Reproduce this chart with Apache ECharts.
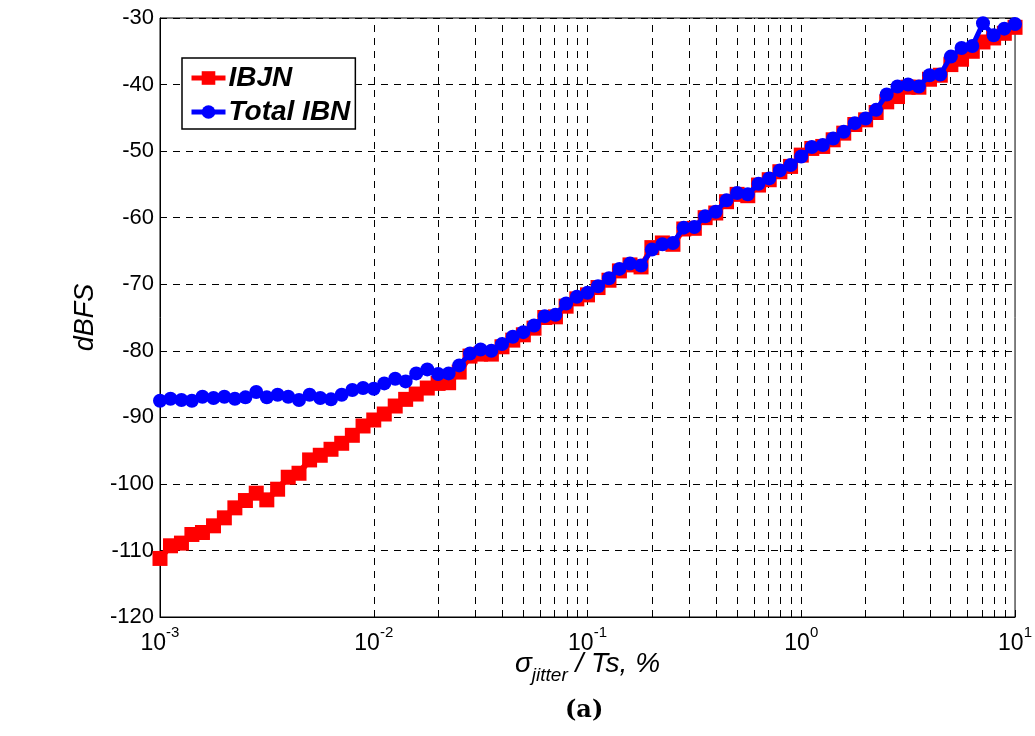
<!DOCTYPE html>
<html>
<head>
    <meta charset="UTF-8">
    <title>ECharts</title>
    <script src="https://cdn.jsdelivr.net/npm/echarts@6/dist/echarts.min.js"></script>
    <style>
        html, body { margin: 0; padding: 0; width: 100%; height: 100%; background: #fff; }
        #main { width: 1035px; height: 736px; }
    </style>
</head>
<body>
    <div id="main"></div>
    <script type="text/javascript">
        // sigma_jitter / Ts, %  (20 points per decade)
        var jitter = [
            0.001, 0.00112, 0.00126, 0.00141, 0.00158, 0.00178, 0.002, 0.00224, 0.00251, 0.00282,
            0.00316, 0.00355, 0.00398, 0.00447, 0.00501, 0.00562, 0.00631, 0.00708, 0.00794, 0.00891,
            0.01, 0.0112, 0.0126, 0.0141, 0.0158, 0.0178, 0.02, 0.0224, 0.0251, 0.0282,
            0.0316, 0.0355, 0.0398, 0.0447, 0.0501, 0.0562, 0.0631, 0.0708, 0.0794, 0.0891,
            0.1, 0.112, 0.126, 0.141, 0.158, 0.178, 0.2, 0.224, 0.251, 0.282,
            0.316, 0.355, 0.398, 0.447, 0.501, 0.562, 0.631, 0.708, 0.794, 0.891,
            1, 1.12, 1.26, 1.41, 1.58, 1.78, 2, 2.24, 2.51, 2.82,
            3.16, 3.55, 3.98, 4.47, 5.01, 5.62, 6.31, 7.08, 7.94, 8.91,
            10
        ];

        var ibjn = [
            -111.2, -109.3, -108.9, -107.6, -107.3, -106.3, -105.1, -103.6, -102.5, -101.4,
            -102.4, -100.8, -99.0, -98.4, -96.4, -95.7, -94.8, -93.9, -92.7, -91.3,
            -90.4, -89.5, -88.3, -87.3, -86.5, -85.6, -84.9, -84.8, -83.2, -80.8,
            -80.5, -80.5, -79.4, -78.4, -77.6, -76.6, -75.0, -74.9, -73.3, -72.2,
            -71.6, -70.5, -69.4, -68.0, -67.1, -67.4, -64.5, -63.8, -64.0, -61.7,
            -61.6, -60.0, -59.3, -57.6, -56.5, -56.7, -55.1, -54.3, -53.1, -52.3,
            -50.6, -49.6, -49.3, -48.3, -47.3, -46.0, -45.3, -44.2, -42.6, -41.8,
            -40.4, -40.4, -39.2, -38.6, -37.0, -36.2, -35.0, -33.6, -33.0, -32.3,
            -31.4
        ];

        var totalIbn = [
            -87.5, -87.2, -87.4, -87.5, -86.9, -87.1, -86.9, -87.2, -87.0, -86.2,
            -87.0, -86.6, -86.9, -87.4, -86.6, -87.1, -87.3, -86.6, -85.9, -85.6,
            -85.7, -84.9, -84.2, -84.6, -83.4, -82.8, -83.5, -83.4, -82.2, -80.4,
            -79.8, -80.0, -79.0, -77.9, -77.2, -76.2, -74.8, -74.6, -72.9, -71.9,
            -71.3, -70.3, -69.1, -67.7, -66.9, -67.2, -64.8, -64.0, -63.8, -61.5,
            -61.4, -59.8, -59.1, -57.4, -56.3, -56.5, -54.9, -54.1, -52.9, -52.1,
            -50.8, -49.4, -49.1, -48.1, -47.1, -45.8, -45.1, -43.8, -41.5, -40.3,
            -40.0, -40.3, -38.6, -38.5, -35.8, -34.5, -34.2, -30.8, -32.6, -31.6,
            -30.9
        ];

        var decades = [0.001, 0.01, 0.1, 1, 10];
        var mantissas = [1, 2, 3, 4, 5, 6, 7, 8, 9];

        function pairs(xs, ys) {
            var out = [];
            for (var i = 0; i < xs.length; i++) out.push([xs[i], ys[i]]);
            return out;
        }

        // vertical dashed grid at every log tick (MATLAB style)
        var gridLines = [];
        for (var d = 0; d < decades.length - 1; d++) {
            for (var m = 0; m < mantissas.length; m++) {
                var v = +(decades[d] * mantissas[m]).toPrecision(3);
                if (v > 0.001) gridLines.push({ xAxis: v });
            }
        }

        var font = 'Liberation Sans, Arial, sans-serif';
        var dash = { color: '#000', width: 1, type: [7, 6] };

        var myChart = echarts.init(document.getElementById('main'), null, { renderer: 'canvas' });

        var option = {
            animation: false,
            backgroundColor: '#fff',
            textStyle: { fontFamily: font, color: '#000' },
            grid: {
                left: 160, right: 17, top: 18, bottom: 119,
                show: true, borderColor: '#000', borderWidth: 1, backgroundColor: 'transparent'
            },
            legend: {
                orient: 'vertical',
                left: 182, top: 58,
                padding: [6, 5, 3, 7],
                itemWidth: 34, itemHeight: 17, itemGap: 6,
                backgroundColor: '#fff',
                borderColor: '#000', borderWidth: 1.5,
                lineStyle: { width: 5 },
                textStyle: { fontSize: 28, fontWeight: 'bold', fontStyle: 'italic', color: '#000', fontFamily: font, padding: [0, 0, 0, -2] },
                data: ['IBJN', 'Total IBN']
            },
            xAxis: {
                type: 'log', logBase: 10, min: 0.001, max: 10,
                name: '{i|σ}{sub|jitter}{i| / Ts, %}',
                nameLocation: 'middle', nameGap: 26, nameMoveOverlap: false,
                nameTextStyle: {
                    rich: {
                        i: { fontSize: 28, fontStyle: 'italic', fontFamily: font, color: '#000' },
                        sub: { fontSize: 19, fontStyle: 'italic', fontFamily: font, color: '#000', padding: [23, 0, 0, 0] }
                    }
                },
                axisLine: { lineStyle: { color: '#000', width: 1 } },
                axisTick: { inside: true, length: 7, lineStyle: { color: '#000' } },
                splitLine: { show: false },
                axisLabel: {
                    margin: 8,
                    formatter: function (val) {
                        var e = Math.round(Math.log(val) / Math.LN10);
                        return '{b|10}{s|' + e + '}';
                    },
                    rich: {
                        b: { fontSize: 23, fontFamily: font, color: '#000' },
                        s: { fontSize: 15, fontFamily: font, color: '#000', padding: [0, 0, 22, 0] }
                    }
                }
            },
            yAxis: {
                type: 'value', min: -120, max: -30, interval: 10,
                name: 'dBFS', nameLocation: 'middle', nameRotate: 90, nameGap: 59,
                nameTextStyle: { fontSize: 27, fontStyle: 'italic', fontFamily: font, color: '#000' },
                axisLine: { lineStyle: { color: '#000', width: 1 } },
                axisTick: { inside: true, length: 7, lineStyle: { color: '#000' } },
                axisLabel: { fontSize: 22, margin: 6, color: '#000', fontFamily: font },
                splitLine: { show: true, lineStyle: dash }
            },
            series: [
                {
                    name: 'grid',
                    type: 'line',
                    data: [],
                    z: 1,
                    markLine: {
                        silent: true, symbol: 'none', z: 1,
                        label: { show: false },
                        lineStyle: dash,
                        data: gridLines
                    }
                },
                {
                    name: 'IBJN',
                    type: 'line',
                    data: pairs(jitter, ibjn),
                    symbol: 'rect', symbolSize: 15,
                    z: 3,
                    itemStyle: { color: '#ff0000' },
                    lineStyle: { color: '#ff0000', width: 6 }
                },
                {
                    name: 'Total IBN',
                    type: 'line',
                    data: pairs(jitter, totalIbn),
                    symbol: 'circle', symbolSize: 14,
                    z: 4,
                    itemStyle: { color: '#0000ff' },
                    lineStyle: { color: '#0000ff', width: 5 }
                }
            ],
            graphic: [{
                type: 'text',
                left: 565, top: 699,
                style: { text: '(a)', fontSize: 24, fontWeight: 'bold', fontFamily: 'DejaVu Serif, serif', fill: '#000' }
            }]
        };

        myChart.setOption(option);
    </script>
</body>
</html>
